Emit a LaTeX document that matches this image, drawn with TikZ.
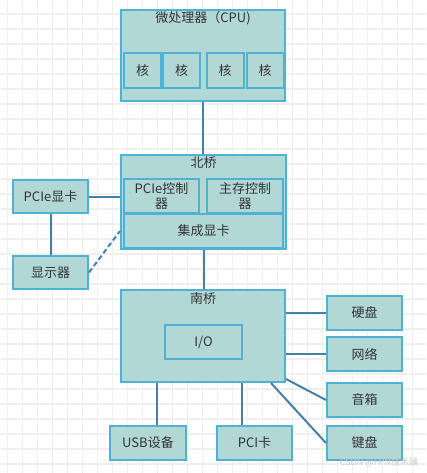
\documentclass[tikz,border=0pt]{standalone}
\usepackage{fontspec}
\setmainfont{Noto Sans CJK SC}
\usetikzlibrary{calc}
\definecolor{boxfill}{HTML}{B2D8D6}
\definecolor{boxline}{HTML}{4FB2D4}
\definecolor{wire}{HTML}{4580A5}
\definecolor{txt}{HTML}{333333}
\definecolor{gridc}{HTML}{EFEFEF}
\tikzset{
  box/.style={draw=boxline, fill=boxfill, line width=2pt, rectangle, inner sep=0pt,
    text=txt, font=\fontsize{13}{15}\selectfont, align=center},
  title/.style={text=txt, font=\fontsize{13}{15}\selectfont, inner sep=0pt},
  wireline/.style={draw=wire, line width=2pt},
}
\begin{document}
\begin{tikzpicture}[x=1pt,y=-1pt]
\useasboundingbox (0,0) rectangle (426,473);
\fill[white] (0,0) rectangle (426,473);
% background grid
\foreach \gx in {7.5,22.5,...,426} {\draw[gridc, line width=1.2pt] (\gx,0) -- (\gx,473);}
\foreach \gy in {14,29,...,473} {\draw[gridc, line width=1.2pt] (0,\gy) -- (426,\gy);}

% CPU
\node[box, minimum width=164, minimum height=91] (cpu) at (203,55.5) {};
\node[title] (cputitle) at (203,18) {微处理器（CPU)};
\node[box, minimum width=37, minimum height=35] (core1) at (142.5,70.5) {核};
\node[box, minimum width=37, minimum height=35] (core2) at (181.5,70.5) {核};
\node[box, minimum width=37, minimum height=35] (core3) at (225,70.5) {核};
\node[box, minimum width=37, minimum height=35] (core4) at (265,70.5) {核};

% North bridge
\node[box, minimum width=165, minimum height=94] (nb) at (203.5,202) {};
\node[title] (nbtitle) at (203.5,163) {北桥};
\node[box, minimum width=75, minimum height=34, font=\fontsize{13}{15}\selectfont] (pciectl) at (161.5,196) {PCIe控制\\器};
\node[box, minimum width=76, minimum height=34] (memctl) at (245,196) {主存控制\\器};
\node[box, minimum width=159, minimum height=34] (igpu) at (203.5,231) {集成显卡};

% left side
\node[box, minimum width=75, minimum height=33] (gpu) at (50.5,196.5) {PCIe显卡};
\node[box, minimum width=75, minimum height=33] (disp) at (50.5,272.5) {显示器};

% South bridge
\node[box, minimum width=164, minimum height=92] (sb) at (203,336) {};
\node[title] (sbtitle) at (203,299) {南桥};
\node[box, minimum width=77, minimum height=34] (io) at (203.5,342) {I/O};

% right devices
\node[box, minimum width=75, minimum height=34] (hd) at (364.5,313) {硬盘};
\node[box, minimum width=75, minimum height=34] (net) at (364.5,354) {网络};
\node[box, minimum width=75, minimum height=34] (spk) at (364.5,400) {音箱};
\node[box, minimum width=75, minimum height=34] (kb) at (364.5,443) {键盘};

% bottom devices
\node[box, minimum width=76, minimum height=34] (usb) at (148,443) {USB设备};
\node[box, minimum width=75, minimum height=34] (pci) at (254.5,443) {PCI卡};

% connectors
\draw[wireline] (cpu.south) -- (cpu.south |- nb.north);
\draw[wireline] (gpu.east) -- (gpu.east -| nb.west);
\draw[wireline] (gpu.south) -- (disp.north);
\draw[wireline, dashed, dash pattern=on 5pt off 3pt] (disp.east) -- (igpu.west -| nb.west);
\draw[wireline] (nb.south) -- (nb.south |- sb.north);
\draw[wireline] (hd.west -| sb.east) -- (hd.west);
\draw[wireline] (net.west -| sb.east) -- (net.west);
\coordinate (spkstart) at ($(sb.south east)+(0,-4)$);
\draw[wireline] (spkstart) -- (spk.west);
\coordinate (kbstart) at ($(sb.south east)+(-15,0)$);
\draw[wireline] (kbstart) -- (kb.west);
\coordinate (usbtop) at ($(usb.north)+(9,0)$);
\draw[wireline] (usbtop |- sb.south) -- (usbtop);
\coordinate (pcitop) at ($(pci.north)+(-12.5,0)$);
\draw[wireline] (pcitop |- sb.south) -- (pcitop);

% watermark
\node[text=black!20, font=\fontsize{9}{10}\selectfont, inner sep=0pt] (wm) at (379,462) {CSDN @FPN技术铺};
\end{tikzpicture}
\end{document}
